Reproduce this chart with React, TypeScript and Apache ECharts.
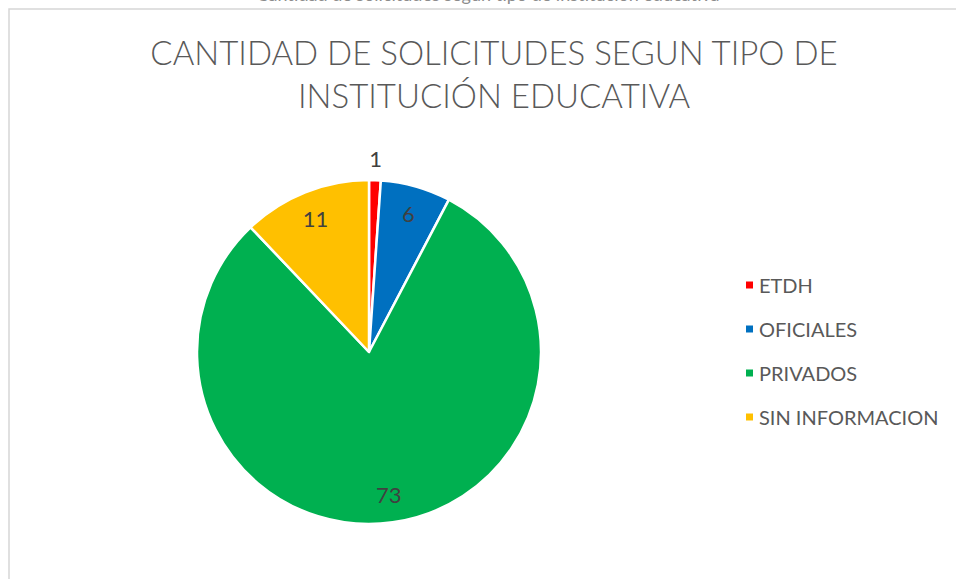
import React, { useEffect, useRef } from "react";
import * as echarts from "echarts";

const categories = ["ETDH", "OFICIALES", "PRIVADOS", "SIN INFORMACION"];
const values = [1, 6, 73, 11];
const colors = ["#ff0000", "#0070c0", "#00b050", "#ffc000"];
const titleText = "CANTIDAD DE SOLICITUDES SEGUN TIPO DE\nINSTITUCIÓN EDUCATIVA";
const clippedCaption = "Cantidad de solicitudes según tipo de institución educativa";

const FONT = "Lato, 'Open Sans', 'Noto Sans', sans-serif";

export default function App() {
  const ref = useRef<HTMLDivElement>(null);
  useEffect(() => {
    document.body.style.margin = "0";
    const chart = echarts.init(ref.current!, null, { renderer: "svg" });
    const data = categories.map((name, i) => ({
      name,
      value: values[i],
      itemStyle: { color: colors[i] },
    }));
    const labelData = (showIdx: (i: number) => boolean) =>
      categories.map((name, i) => ({
        name,
        value: values[i],
        label: { show: showIdx(i) },
      }));
    chart.setOption({
      animation: false,
      backgroundColor: "#ffffff",
      title: {
        text: titleText,
        left: 489,
        top: 25,
        textAlign: "center",
        textStyle: {
          fontFamily: FONT,
          fontSize: 33,
          fontWeight: 300,
          lineHeight: 43,
          color: "#595959",
        },
      },
      legend: {
        orient: "vertical",
        left: 739,
        top: 270,
        itemWidth: 9,
        itemHeight: 9,
        itemGap: 24,
        icon: "rect",
        data: categories,
        textStyle: { fontFamily: FONT, fontSize: 20, color: "#595959" },
      },
      graphic: [
        {
          type: "rect",
          shape: { x: 9, y: 9, width: 1000, height: 1000 },
          style: { fill: "none", stroke: "#d6d6d6", lineWidth: 1.5 },
          silent: true,
        },
        {
          type: "text",
          x: 488,
          y: 3,
          style: {
            text: clippedCaption,
            fontFamily: FONT,
            fontSize: 18,
            fill: "#8c8c8c",
            textAlign: "center",
            textVerticalAlign: "bottom",
          },
          silent: true,
        },
      ],
      series: [
        {
          type: "pie",
          center: [369, 352],
          radius: 172,
          startAngle: 90,
          clockwise: true,
          data,
          label: { show: false },
          labelLine: { show: false },
          itemStyle: { borderColor: "#ffffff", borderWidth: 2.5 },
          emphasis: { disabled: true },
        },
        {
          type: "pie",
          center: [369, 352],
          radius: [0, 282],
          startAngle: 90,
          clockwise: true,
          silent: true,
          data: labelData((i) => i !== 0),
          itemStyle: { color: "transparent", borderWidth: 0 },
          label: {
            position: "inside",
            fontFamily: FONT,
            fontSize: 22,
            color: "#404040",
            formatter: "{c}",
          },
          labelLine: { show: false },
          emphasis: { disabled: true },
        },
        {
          type: "pie",
          center: [369, 352],
          radius: [0, 382],
          startAngle: 90,
          clockwise: true,
          silent: true,
          data: labelData((i) => i === 0),
          itemStyle: { color: "transparent", borderWidth: 0 },
          label: {
            position: "inside",
            fontFamily: FONT,
            fontSize: 22,
            color: "#404040",
            formatter: "{c}",
          },
          labelLine: { show: false },
          emphasis: { disabled: true },
        },
      ],
    });
    return () => chart.dispose();
  }, []);
  return <div ref={ref} style={{ width: 956, height: 579 }} />;
}
